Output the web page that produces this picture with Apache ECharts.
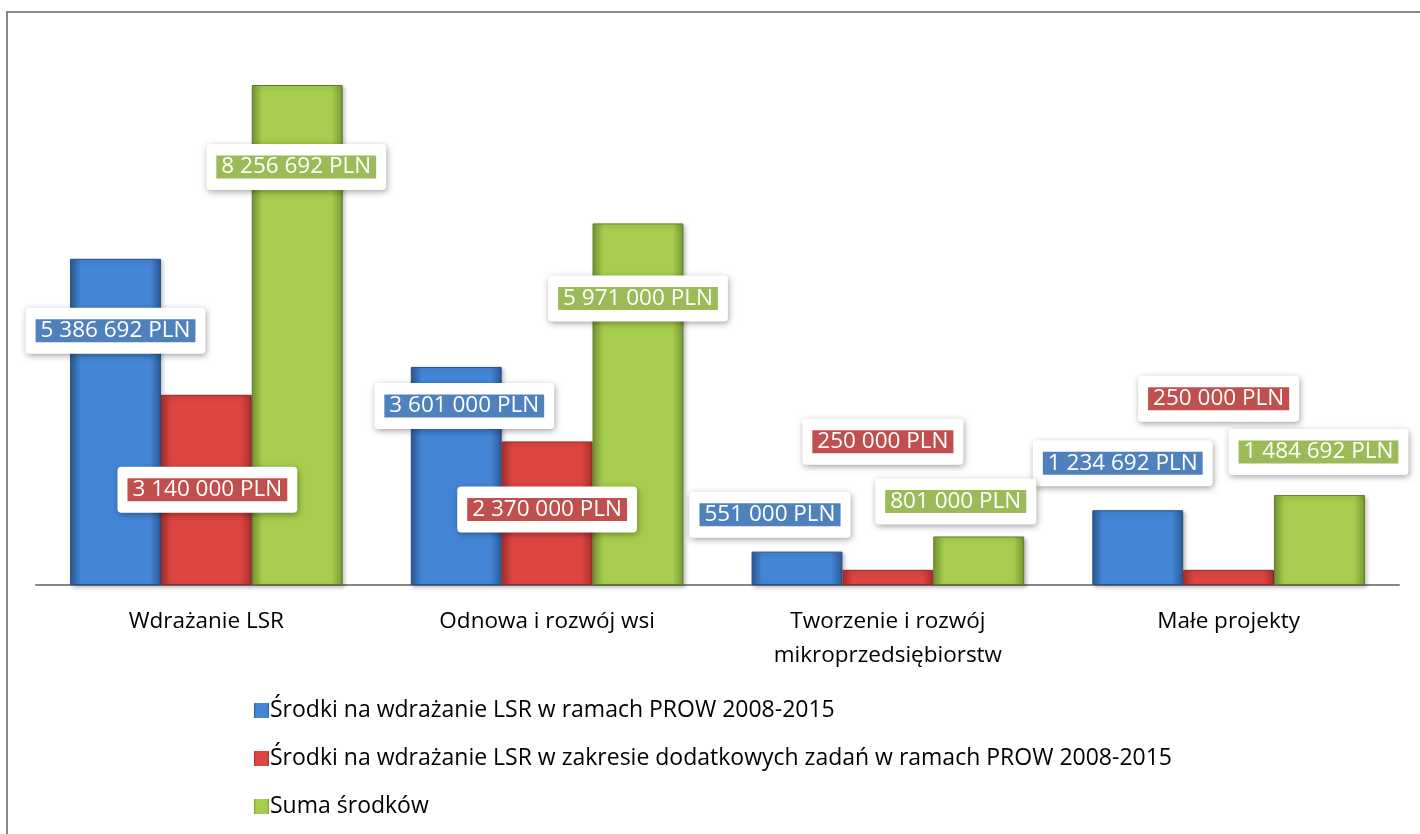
<!DOCTYPE html>
<html>
<head>
<meta charset="utf-8">
<script src="https://cdn.jsdelivr.net/npm/echarts@6/dist/echarts.min.js"></script>
<style>
  html, body { margin: 0; padding: 0; background: #fff; }
  #chart { width: 1420px; height: 834px; }
</style>
</head>
<body>
<div id="chart"></div>
<script>
// dane
const categories = ['Wdrażanie LSR', 'Odnowa i rozwój wsi', 'Tworzenie i rozwój\nmikroprzedsiębiorstw', 'Małe projekty'];
const seriesNames = [
  'Środki na wdrażanie LSR w ramach PROW 2008-2015',
  'Środki na wdrażanie LSR w zakresie dodatkowych zadań w ramach PROW 2008-2015',
  'Suma środków'
];
const prowValues = [5386692, 3601000, 551000, 1234692];
const extraValues = [3140000, 2370000, 250000, 250000];
const sumValues = [8256692, 5971000, 801000, 1484692];

// ręcznie przesunięte etykiety (jak w Excelu)
const labelOffsets = [
  [[0, 95], [8, 62], [-27, -14], [-15, -24]],
  [[1, 118], [0, 91], [-5, -105], [-10, -148]],
  [[-1, 105], [0, 98], [-23, -12], [-1, -20]]
];

const flatColors = ['#4F81BD', '#C0504D', '#9BBB59'];
const barColors = [
  { edge: '#2c5a96', mid: '#4386d6', border: '#2a4f80' },
  { edge: '#a8302d', mid: '#dc4541', border: '#8c2a28' },
  { edge: '#789a33', mid: '#a6cd4d', border: '#5f7a2a' }
];
const FONT = 'Open Sans';
const FS = 22.5;

function fmt(v) {
  return String(v).replace(/\B(?=(\d{3})+(?!\d))/g, ' ') + ' PLN';
}

function grad(c) {
  return new echarts.graphic.LinearGradient(0, 0, 1, 0, [
    { offset: 0, color: c.edge },
    { offset: 0.12, color: c.mid },
    { offset: 0.88, color: c.mid },
    { offset: 1, color: c.edge }
  ]);
}

function makeSeries(idx, values) {
  return {
    name: seriesNames[idx],
    type: 'bar',
    barGap: 0,
    barCategoryGap: '20%',
    itemStyle: {
      color: grad(barColors[idx]),
      borderColor: barColors[idx].border,
      borderWidth: 1,
      shadowColor: 'rgba(0,0,0,0.25)',
      shadowBlur: 4,
      shadowOffsetX: 2,
      shadowOffsetY: 2
    },
    data: values.map((v, i) => ({
      value: v,
      label: { offset: labelOffsets[idx][i] }
    })),
    label: {
      show: true,
      position: 'top',
      distance: 0,
      formatter: (p) => '{t|' + fmt(p.value) + '}',
      backgroundColor: '#fff',
      padding: [7, 10],
      borderRadius: 4,
      shadowColor: 'rgba(0,0,0,0.35)',
      shadowBlur: 6,
      shadowOffsetX: 1,
      shadowOffsetY: 2,
      rich: {
        t: {
          color: '#fff',
          fontFamily: FONT,
          fontSize: FS,
          lineHeight: 32,
          backgroundColor: flatColors[idx],
          padding: [0, 5]
        }
      }
    }
  };
}

const chart = echarts.init(document.getElementById('chart'));
chart.setOption({
  animation: false,
  textStyle: { fontFamily: FONT },
  graphic: [{
    type: 'rect',
    shape: { x: 7, y: 12, width: 1440, height: 860 },
    style: { fill: null, stroke: '#888', lineWidth: 2 },
    silent: true
  }],
  grid: { left: 36, right: 21, top: 40, bottom: 249 },
  xAxis: {
    type: 'category',
    data: categories,
    axisTick: { show: false },
    axisLine: { lineStyle: { color: '#868686', width: 2 } },
    axisLabel: { color: '#000', fontSize: FS, lineHeight: 34, margin: 20, interval: 0 }
  },
  yAxis: {
    type: 'value',
    min: 0,
    max: 9000000,
    show: false,
    splitLine: { show: false }
  },
  legend: {
    orient: 'vertical',
    left: 249,
    top: 694,
    itemWidth: 15,
    itemHeight: 15,
    itemGap: 25,
    icon: 'rect',
    textStyle: { color: '#000', fontSize: 23, padding: [0, 0, 0, -4] },
    data: seriesNames.map((n, i) => ({ name: n, itemStyle: { color: grad(barColors[i]), borderWidth: 0, shadowBlur: 0 } }))
  },
  series: [
    makeSeries(0, prowValues),
    makeSeries(1, extraValues),
    makeSeries(2, sumValues)
  ]
});
</script>
</body>
</html>
